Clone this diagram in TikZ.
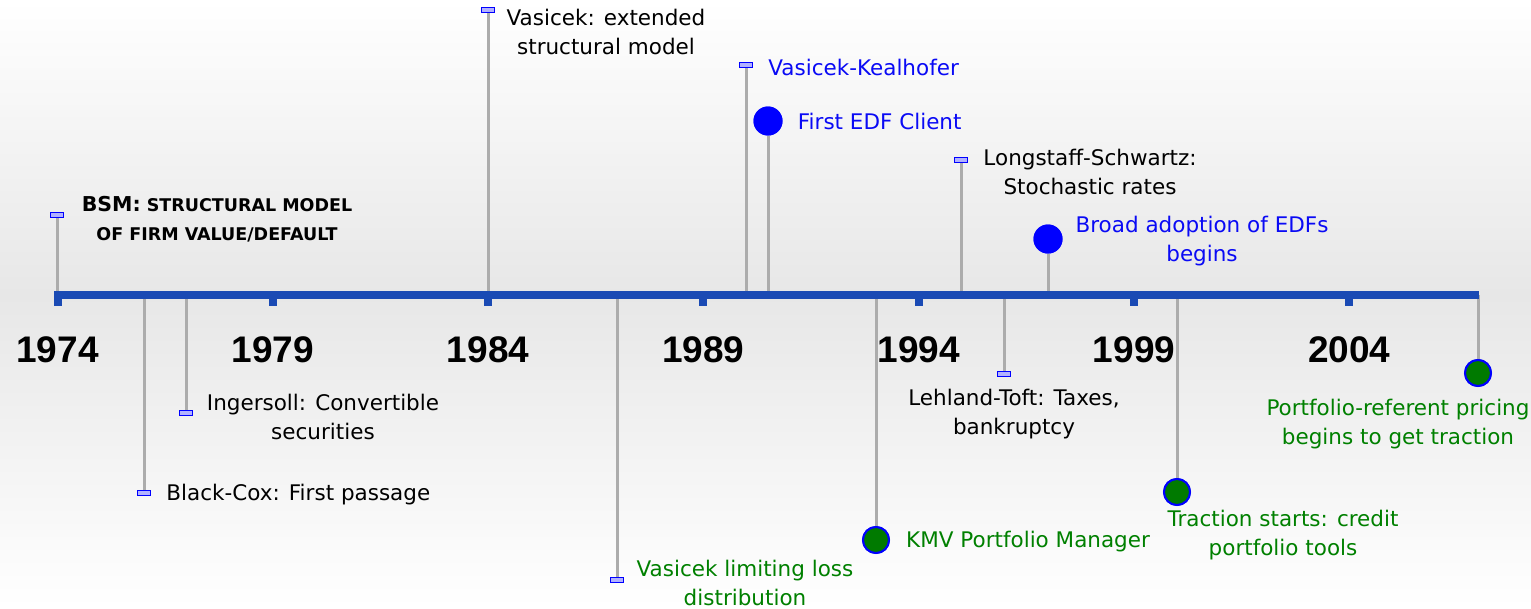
\documentclass[tikz,border=0pt]{standalone}
\usepackage{fontspec}
\setmainfont{DejaVu Sans}
\newfontfamily\yearfont{Liberation Sans}
\usetikzlibrary{positioning}

\definecolor{axisblue}{RGB}{26,74,180}
\definecolor{stemgray}{RGB}{172,172,172}
\definecolor{edfblue}{RGB}{0,0,255}
\definecolor{txtblue}{RGB}{10,10,245}
\definecolor{txtgreen}{RGB}{0,128,0}
\definecolor{dotgreen}{RGB}{0,122,0}
\definecolor{bggray}{RGB}{231,231,231}

\tikzset{
  stemline/.style={draw=stemgray, line width=3pt},
  flag/.style={draw=edfblue, fill=edfblue!30, line width=1.4pt, minimum width=13pt, minimum height=4.5pt, inner sep=0pt},
  bluedot/.style={circle, fill=edfblue, minimum size=29pt, inner sep=0pt},
  greendot/.style={circle, fill=dotgreen, draw=edfblue, line width=2pt, minimum size=26pt, inner sep=0pt},
  lbl/.style={font=\fontsize{21.5}{28.5}\selectfont, align=center, inner sep=0pt},
  yearlbl/.style={font=\yearfont\bfseries\fontsize{37}{40}\selectfont, inner sep=0pt},
}

\begin{document}
\begin{tikzpicture}[x=1pt, y=-1pt]
    % background
    \useasboundingbox (0,0) rectangle (1531,608);
    \shade[top color=white, bottom color=bggray] (0,0) rectangle (1531,295);
    \shade[top color=bggray, bottom color=white] (0,295) rectangle (1531,608);

    % points on the axis
    \coordinate (bsm-a) at (57,295);
    \coordinate (bc-a) at (144,295);
    \coordinate (ing-a) at (186,295);
    \coordinate (vas-a) at (488,295);
    \coordinate (vll-a) at (617,295);
    \coordinate (vk-a) at (746,295);
    \coordinate (edf-a) at (768,295);
    \coordinate (kmv-a) at (876,295);
    \coordinate (ls-a) at (961,295);
    \coordinate (lt-a) at (1004,295);
    \coordinate (bro-a) at (1048,295);
    \coordinate (tra-a) at (1177,295);
    \coordinate (pr-a) at (1478,295);

    % markers
    \node[flag] (bsm) at (57,215) {};
    \node[flag] (bc) at (144,493) {};
    \node[flag] (ing) at (186,413) {};
    \node[flag] (vas) at (488,10) {};
    \node[flag] (vll) at (617,580) {};
    \node[flag] (vk) at (746,65) {};
    \node[bluedot] (edf) at (768,121) {};
    \node[greendot] (kmv) at (876,540) {};
    \node[flag] (ls) at (961,160) {};
    \node[flag] (lt) at (1004,374) {};
    \node[bluedot] (bro) at (1048,239) {};
    \node[greendot] (tra) at (1177,492) {};
    \node[greendot] (pr) at (1478,373) {};

    % stems
    \foreach \ev in {bsm,bc,ing,vas,vll,vk,edf,kmv,ls,lt,bro,tra,pr}
        \draw[stemline] (\ev-a) -- (\ev);

    % axis and ticks
    \coordinate (axl) at (54,295);
    \coordinate (axr) at (1479,295);
    \draw[axisblue, line width=8pt] (axl) -- (axr);
    \foreach \yr [count=\i from 0] in {1974,1979,1984,1989,1994,1999,2004} {
        \fill[axisblue] (57.5+\i*215.3-4,295) rectangle (57.5+\i*215.3+4,306);
        \node[yearlbl] (y\yr) at (57.5+\i*215.3,350) {\yr};
    }

    % markers again on top of the stems
    \foreach \ev in {bsm,bc,ing,vas,vll,vk,ls,lt}
        \node[flag] at (\ev) {};
    \foreach \ev in {edf,bro}
        \node[bluedot] at (\ev) {};
    \foreach \ev in {kmv,tra,pr}
        \node[greendot] at (\ev) {};

    % labels
    \node[lbl, font=\bfseries\fontsize{17.5}{29}\selectfont] (bsm-t) at (217,219)
        {{\fontsize{20.5}{29}\selectfont BSM:} STRUCTURAL MODEL\\OF FIRM VALUE/DEFAULT};
    \node[lbl, anchor=west, right=15pt of bc, yshift=-2pt] (bc-t) {Black-Cox: First passage};
    \node[lbl] (ing-t) at (323,417) {Ingersoll: Convertible\\securities};
    \node[lbl] (vas-t) at (606,32) {Vasicek: extended\\structural model};
    \node[lbl, text=txtgreen] (vll-t) at (745,583) {Vasicek limiting loss\\distribution};
    \node[lbl, text=txtblue, anchor=west, right=15pt of vk, yshift=-2pt] (vk-t) {Vasicek-Kealhofer};
    \node[lbl, text=txtblue, anchor=west, right=15pt of edf] (edf-t) {First EDF Client};
    \node[lbl, text=txtgreen, anchor=west, right=16pt of kmv, yshift=-2pt] (kmv-t) {KMV Portfolio Manager};
    \node[lbl] (ls-t) at (1090,172) {Longstaff-Schwartz:\\Stochastic rates};
    \node[lbl] (lt-t) at (1014,414) {Lehland-Toft: Taxes,\\bankruptcy};
    \node[lbl, text=txtblue] (bro-t) at (1202,241) {Broad adoption of EDFs\\begins};
    \node[lbl, text=txtgreen] (tra-t) at (1283,535) {Traction starts: credit\\portfolio tools};
    \node[lbl, text=txtgreen] (pr-t) at (1398,424) {Portfolio-referent pricing\\begins to get traction};
\end{tikzpicture}
\end{document}
